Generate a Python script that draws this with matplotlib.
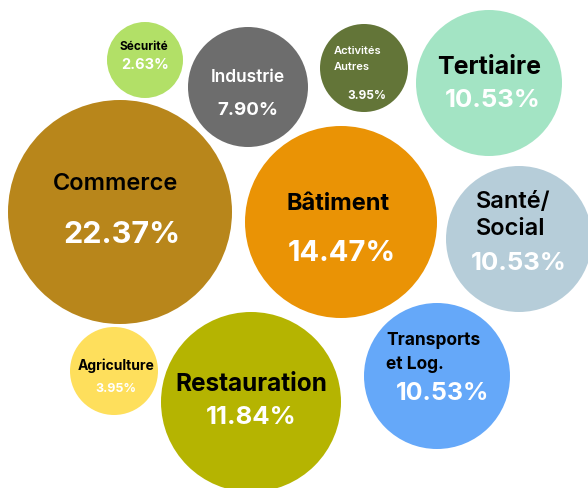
import numpy as np
import matplotlib
matplotlib.use("Agg")
import matplotlib.pyplot as plt
from matplotlib.patches import Circle

# sectors and shares (%)
sectors = ["Sécurité", "Industrie", "Activités\nAutres", "Tertiaire", "Commerce",
           "Bâtiment", "Santé/\nSocial", "Agriculture", "Restauration", "Transports\net Log."]
shares = [2.63, 7.90, 3.95, 10.53, 22.37, 14.47, 10.53, 3.95, 11.84, 10.53]
colors = ["#b2e067", "#6d6d6d", "#637538", "#a3e4c4", "#b8861b",
          "#ea9305", "#b6cdd9", "#fedf5c", "#b5b401", "#65a8f9"]

# bubble layout (pixel coords, y down)
cx = [145, 248, 364, 489, 120, 341, 519, 114, 251, 437]
cy = [60, 87, 68, 83, 212, 222, 239, 371, 402, 376]
rad = [38, 60, 44, 73, 112, 96, 73, 44, 90, 73]

# label layout: x, baseline y, size, colour, align
lab_x = [144, 248, 334, 489, 116, 338, 476, 116, 251, 386]
lab_y = [50, 82, 54, 74, 190, 210, 208, 370, 391, 345]
lab_fs = [8.5, 12.5, 8, 18, 17, 17, 17, 10, 17.5, 12.5]
lab_w = ["bold", "semibold", "semibold", "bold", "semibold", "bold", "semibold", "bold", "bold", "bold"]
lab_col = ["black", "white", "white", "black", "black", "black", "black", "black", "black", "black"]
lab_ha = ["center", "center", "left", "center", "center", "center", "left", "center", "center", "left"]
lab_ls = [1, 1, 1.4, 1, 1, 1, 1.15, 1, 1, 1.4]

pct_x = [145, 248, 367, 493, 122, 342, 519, 116, 251, 443]
pct_y = [69, 115, 99, 107, 243, 261, 270, 392, 424, 400]
pct_fs = [10.5, 13.5, 8.5, 18.5, 22, 21, 18.5, 9, 18.5, 18]

plt.rcParams['font.family'] = ['Inter', 'DejaVu Sans']

fig = plt.figure(figsize=(5.88, 4.88), dpi=100)
ax = fig.add_axes([0, 0, 1, 1])
ax.set_xlim(0, 588)
ax.set_ylim(488, 0)
ax.set_aspect('equal')
ax.axis('off')

for i in range(len(sectors)):
    ax.add_patch(Circle((cx[i], cy[i]), rad[i], color=colors[i], lw=0))
    lines = sectors[i].split("\n")
    for j, line in enumerate(lines):
        step = lab_fs[i] * 100 / 72 * lab_ls[i]
        ax.text(lab_x[i], lab_y[i] + j * step, line, ha=lab_ha[i], va='baseline',
                fontsize=lab_fs[i], fontweight=lab_w[i], color=lab_col[i])
    ax.text(pct_x[i], pct_y[i], f"{shares[i]:.2f}%", ha='center', va='baseline',
            fontsize=pct_fs[i], fontweight='bold', color='white')

fig.savefig("out.png", dpi=100)
